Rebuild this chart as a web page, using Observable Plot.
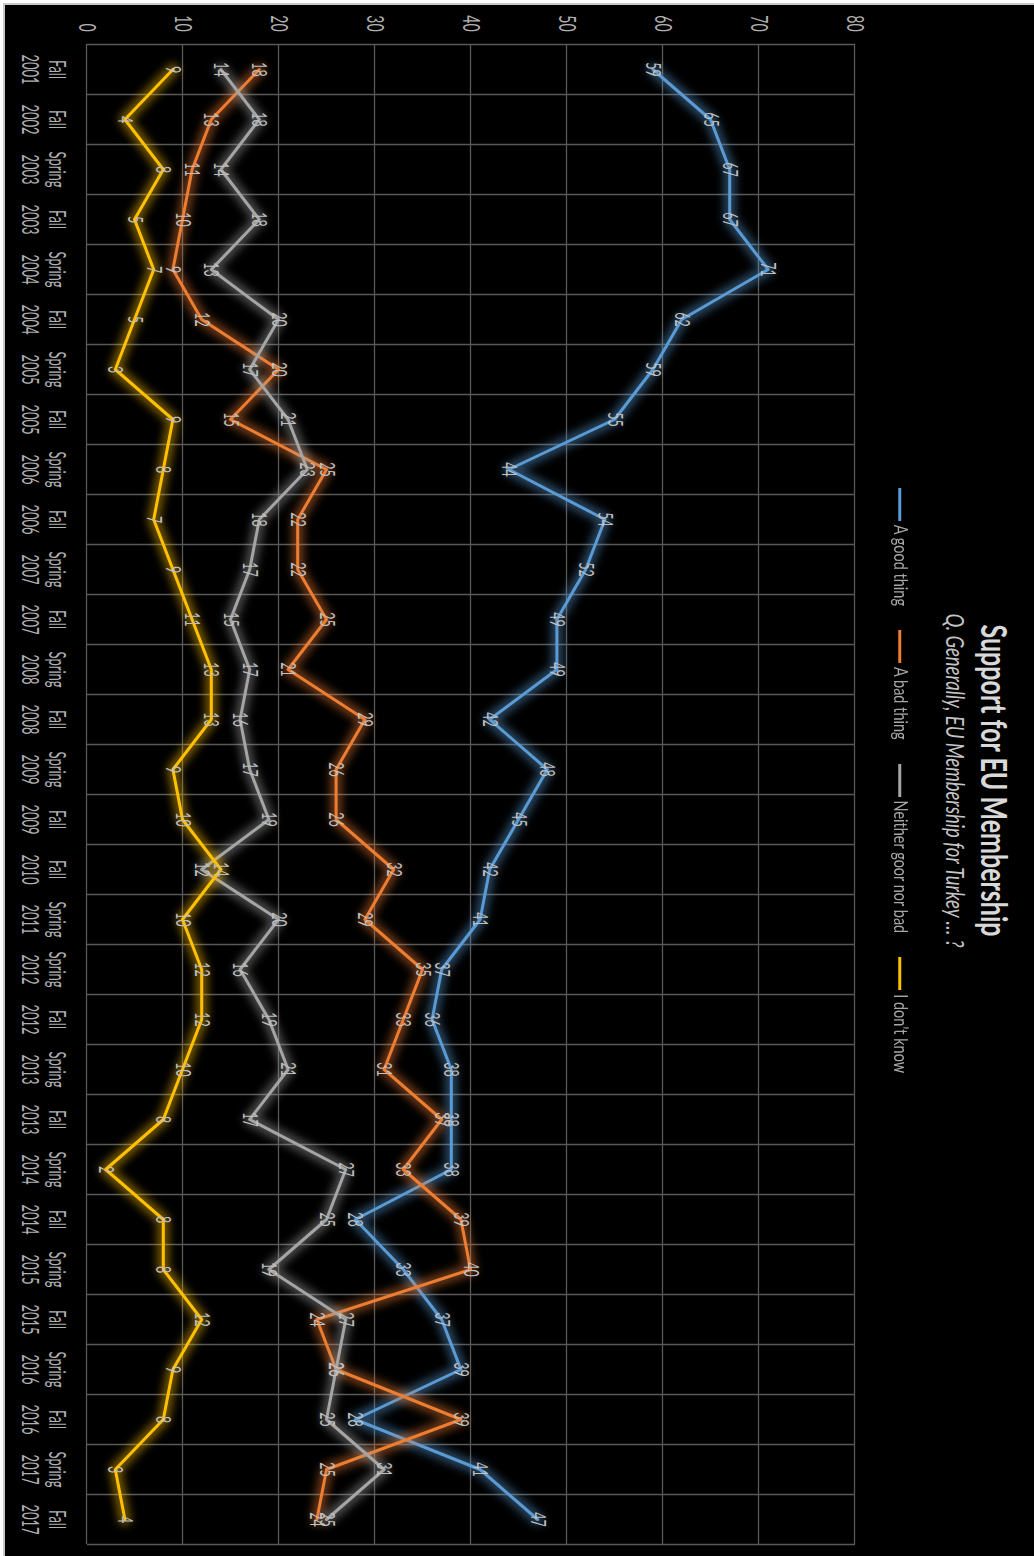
<!DOCTYPE html>
<html>
<head>
<meta charset="utf-8">
<script src="https://cdn.jsdelivr.net/npm/d3@7"></script>
<script src="https://cdn.jsdelivr.net/npm/@observablehq/plot@0.6"></script>
<style>
html, body { margin: 0; padding: 0; background: #fff; overflow: hidden; width: 1034px; height: 1556px; }
#edge { position: absolute; left: 3px; top: 3px; width: 1031px; height: 1553px; background: #c9c9c9; }
#bg { position: absolute; left: 5px; top: 5px; width: 1029px; height: 1551px; background: #000; }
#chart { position: absolute; left: 5px; top: 5px; width: 1551px; height: 1029px;
  transform-origin: 0 0; transform: translateX(1029px) rotate(90deg);
  font-family: Lato, "Open Sans", sans-serif; }
.t { position: absolute; left: 0; width: 1551px; text-align: center; line-height: 1; white-space: nowrap; }
#title { top: 40px; font-weight: 700; font-size: 25px; color: #d9d9d9; transform: translateY(-50%) scaleY(1.42); }
#subtitle { top: 79px; font-style: italic; font-size: 18.5px; color: #c4c4c4; transform: translateY(-50%) scaleY(1.4); }
#legend { top: 134px; display: flex; justify-content: center; align-items: center; transform: translateY(-50%); }
.item { display: flex; align-items: center; margin: 0 12px; }
.sw { width: 33px; height: 3px; margin-right: 4px; }
.lab { font-size: 14.5px; color: #a6a6a6; display: inline-block; transform: scaleY(1.3); }
#plot { position: absolute; left: 0; top: 0; }
</style>
</head>
<body>
<div id="edge"></div>
<div id="bg"></div>
<div id="chart">
  <div id="plot"></div>
  <div class="t" id="title">Support for EU Membership</div>
  <div class="t" id="subtitle">Q. Generally, EU Membership for Turkey … ?</div>
  <div class="t" id="legend"></div>
</div>
<script>
const seasons = ["Fall","Fall","Spring","Fall","Spring","Fall","Spring","Fall","Spring","Fall",
  "Spring","Fall","Spring","Fall","Spring","Fall","Fall","Spring","Spring","Fall",
  "Spring","Fall","Spring","Fall","Spring","Fall","Spring","Fall","Spring","Fall"];
const years = ["2001","2002","2003","2003","2004","2004","2005","2005","2006","2006",
  "2007","2007","2008","2008","2009","2009","2010","2011","2012","2012",
  "2013","2013","2014","2014","2015","2015","2016","2016","2017","2017"];

const seriesNames = ["A good thing", "A bad thing", "Neither goor nor bad", "I don\u2019t know"];
const seriesColors = ["#5b9bd5", "#ed7d31", "#a5a5a5", "#ffc000"];

const goodThing = [59,65,67,67,71,62,59,55,44,54, 52,49,49,42,48,45,42,41,37,36, 38,38,38,28,33,37,39,28,41,47];
const badThing  = [18,13,11,10,9,12,20,15,25,22, 22,25,21,29,26,26,32,29,35,33, 31,37,33,39,40,24,26,39,25,24];
const neither   = [14,18,14,18,13,20,17,21,23,18, 17,15,17,16,17,19,12,20,16,19, 21,17,27,25,19,27,26,25,31,25];
const dontKnow  = [9,4,8,5,7,5,3,9,8,7, 9,11,13,13,9,10,14,10,12,12, 10,8,2,8,8,12,9,8,3,4];

const valueTicks = [0,10,20,30,40,50,60,70,80];

const seriesValues = [goodThing, badThing, neither, dontKnow];
const idx = d3.range(seasons.length);
const boundaries = d3.range(-0.5, seasons.length, 1);
const rows = [];
seriesValues.forEach((vals, k) => vals.forEach((v, i) => rows.push({i, series: seriesNames[k], value: v})));

const gridColor = "#595959";
const marks = [
  Plot.ruleY(valueTicks, {y: d => d, stroke: gridColor, strokeWidth: 1.3}),
  Plot.ruleX(boundaries, {x: d => d, stroke: gridColor, strokeWidth: 1.3})
];
seriesNames.forEach((s, k) => {
  const data = rows.filter(r => r.series === s);
  marks.push(Plot.line(data, {x: "i", y: "value", stroke: seriesColors[k], strokeWidth: 12, strokeOpacity: 0.45, ariaDescription: "glow"}));
  marks.push(Plot.line(data, {x: "i", y: "value", stroke: seriesColors[k], strokeWidth: 3}));
});
marks.push(Plot.text(rows, {x: "i", y: "value", text: d => String(d.value), fill: "#bfbfbf", fontSize: 12.5, ariaDescription: "lbl"}));
marks.push(Plot.text(idx, {x: i => i, text: i => seasons[i], frameAnchor: "bottom", lineAnchor: "middle", dy: 30, fill: "#b0b0b0", fontSize: 13, ariaDescription: "cat"}));
marks.push(Plot.text(idx, {x: i => i, text: i => years[i], frameAnchor: "bottom", lineAnchor: "middle", dy: 57, fill: "#b0b0b0", fontSize: 13, ariaDescription: "cat"}));
marks.push(Plot.text(valueTicks, {y: d => d, text: d => String(d), frameAnchor: "left", lineAnchor: "middle", dx: -13, textAnchor: "end", fill: "#b0b0b0", fontSize: 14, ariaDescription: "tick"}));

const chart = Plot.plot({
  width: 1551,
  height: 1029,
  marginLeft: 39,
  marginRight: 12,
  marginTop: 179,
  marginBottom: 82,
  x: {type: "linear", domain: [-0.5, seasons.length - 0.5], axis: null},
  y: {type: "linear", domain: [0, 80], axis: null},
  style: {background: "transparent", fontFamily: "Lato, 'Open Sans', sans-serif", color: "#bfbfbf", overflow: "visible"},
  marks
});

const svgNode = chart.tagName.toLowerCase() === "svg" ? chart : chart.querySelector("svg");
const svg = d3.select(svgNode);
const filt = svg.insert("defs", ":first-child").append("filter")
  .attr("id", "glow").attr("filterUnits", "userSpaceOnUse")
  .attr("x", -50).attr("y", -50).attr("width", 1651).attr("height", 1129);
filt.append("feGaussianBlur").attr("stdDeviation", 4);
svg.selectAll('g[aria-description="glow"]').attr("filter", "url(#glow)");

function stretch(desc, s) {
  svg.selectAll(`g[aria-description="${desc}"] text`).each(function() {
    const t = this.getAttribute("transform");
    if (t) this.setAttribute("transform", t + ` scale(1,${s})`);
    else {
      const x = +this.getAttribute("x") || 0, y = +this.getAttribute("y") || 0;
      this.removeAttribute("x"); this.removeAttribute("y");
      this.setAttribute("transform", `translate(${x},${y}) scale(1,${s})`);
    }
  });
}
stretch("lbl", 1.7);
stretch("cat", 1.7);
stretch("tick", 1.7);

document.getElementById("plot").appendChild(chart);

const legend = d3.select("#legend");
seriesNames.forEach((s, k) => {
  const it = legend.append("div").attr("class", "item");
  it.append("div").attr("class", "sw").style("background", seriesColors[k]);
  it.append("span").attr("class", "lab").text(s);
});
</script>
</body>
</html>
